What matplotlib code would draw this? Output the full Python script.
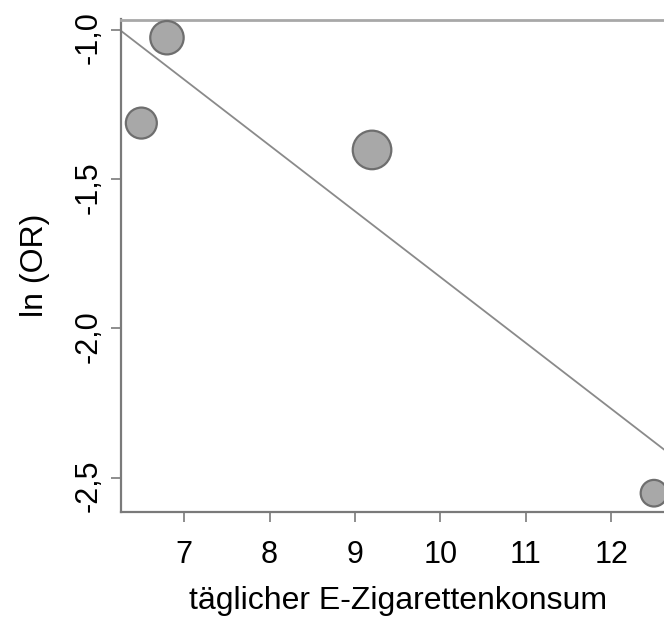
import matplotlib
matplotlib.use("Agg")
import matplotlib.pyplot as plt
import matplotlib.transforms as mtransforms
import numpy as np

plt.rcParams['font.family'] = ['Liberation Sans', 'DejaVu Sans']

# data
consumption = [6.8, 6.5, 9.2, 12.5]
ln_or = [-1.026, -1.312, -1.402, -2.552]
weights = [2.79, 2.40, 3.72, 1.77]  # relative study weights (bubble area)
reg_intercept = 0.379
reg_slope = -0.2207
xticks = [7, 8, 9, 10, 11, 12]
yticks = [-1.0, -1.5, -2.0, -2.5]
ytick_labels = ['-1,0', '-1,5', '-2,0', '-2,5']

W, H = 664, 621
fig = plt.figure(figsize=(W / 100, H / 100), dpi=100)
ax = fig.add_axes([121 / W, (H - 511.7) / H, 553.5 / W, 492.2 / H])

ax.set_xlim(6.262, 12.74)
ax.set_ylim(-2.614, -0.965)

# regression line
xl = np.array(ax.get_xlim())
ax.plot(xl, reg_intercept + reg_slope * xl, color='#8a8a8a', lw=1.3, zorder=2)

# bubbles
w = np.array(weights)
sizes = (np.sqrt(w) * 10.0 * 2 * 0.72) ** 2
ax.scatter(consumption, ln_or, s=sizes, facecolor='#a8a8a8', edgecolor='#6e6e6e',
           linewidths=1.6, zorder=3, clip_on=False)

for side in ['left', 'bottom']:
    ax.spines[side].set_color('#7a7a7a')
    ax.spines[side].set_linewidth(1.6)
ax.spines['top'].set_color('#a8a8a8')
ax.spines['top'].set_linewidth(2.0)
ax.spines['right'].set_color('#a8a8a8')

ax.set_xticks(xticks)
ax.set_xticklabels([str(t) for t in xticks])
ax.set_yticks(yticks)
ax.set_yticklabels(ytick_labels, rotation=90, va='center')
ax.tick_params(axis='both', length=7.2, width=1.2, color='#7a7a7a', labelsize=22)
ax.tick_params(axis='x', pad=13)
ax.tick_params(axis='y', pad=5)

offset = mtransforms.ScaledTranslation(0, -8 / 100, fig.dpi_scale_trans)
for lab in ax.get_yticklabels():
    lab.set_transform(lab.get_transform() + offset)

ax.set_xlabel('täglicher E-Zigarettenkonsum', fontsize=23, labelpad=12)
ax.set_ylabel('ln (OR)', fontsize=23, labelpad=17)

fig.savefig('out.png', dpi=100)
